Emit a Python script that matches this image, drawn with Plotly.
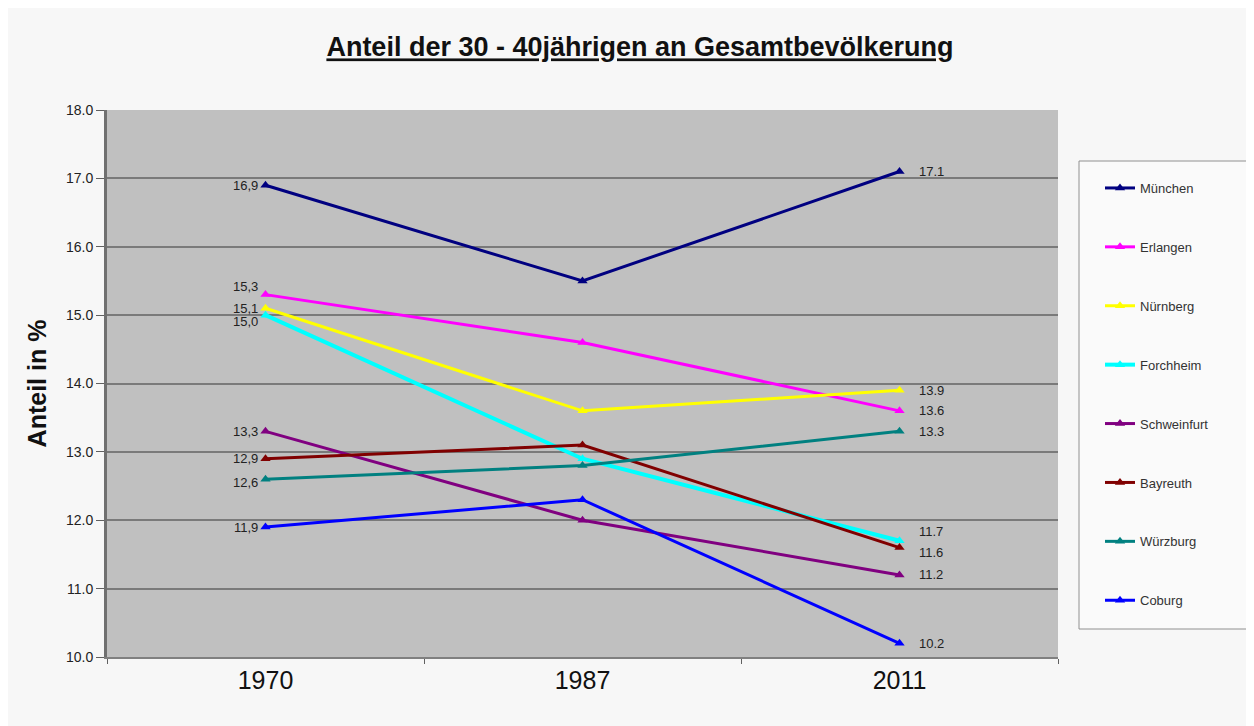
import plotly.graph_objects as go

years = ["1970", "1987", "2011"]
cities = ["München", "Erlangen", "Nürnberg", "Forchheim", "Schweinfurt", "Bayreuth", "Würzburg", "Coburg"]
values = {
    "München":     [16.9, 15.5, 17.1],
    "Erlangen":    [15.3, 14.6, 13.6],
    "Nürnberg":    [15.1, 13.6, 13.9],
    "Forchheim":   [15.0, 12.9, 11.7],
    "Schweinfurt": [13.3, 12.0, 11.2],
    "Bayreuth":    [12.9, 13.1, 11.6],
    "Würzburg":    [12.6, 12.8, 13.3],
    "Coburg":      [11.9, 12.3, 10.2],
}
colors = {
    "München": "#000080",
    "Erlangen": "#FF00FF",
    "Nürnberg": "#FFFF00",
    "Forchheim": "#00FFFF",
    "Schweinfurt": "#800080",
    "Bayreuth": "#800000",
    "Würzburg": "#008080",
    "Coburg": "#0000FF",
}
y_ticks = [10, 11, 12, 13, 14, 15, 16, 17, 18]

# small vertical nudges (px) of the value labels to avoid overlaps
left_shift = {"Erlangen": 8, "Forchheim": -6, "Würzburg": -3}
right_shift = {"Forchheim": 9, "Bayreuth": -5}

FONT = "Arial, Liberation Sans, sans-serif"
OFF = 8  # page body margin

fig = go.Figure()
for c in cities:
    v = values[c]
    fig.add_trace(go.Scatter(
        x=years, y=v, name=c, legendgroup=c,
        mode="lines+markers",
        line=dict(color=colors[c], width=4 if c == "Forchheim" else 3),
        marker=dict(symbol="triangle-up", size=9, color=colors[c]),
    ))
    # category index positions on the category axis
    fig.add_annotation(x=0, y=v[0], text=f"{v[0]:.1f}".replace(".", ","),
                       showarrow=False, xanchor="right", yanchor="middle",
                       xshift=-6, yshift=left_shift.get(c, 0),
                       font=dict(family=FONT, size=13, color="#222222"))
    fig.add_annotation(x=len(years) - 1, y=v[-1], text=f"{v[-1]:.1f}",
                       showarrow=False, xanchor="left", yanchor="middle",
                       xshift=17, yshift=right_shift.get(c, 0),
                       font=dict(family=FONT, size=13, color="#222222"))

fig.add_shape(type="rect", xref="paper", yref="paper",
              x0=(1079 - 107) / 951, x1=(1250 - 107) / 951,
              y0=(657 - 629) / 547, y1=(657 - 161) / 547,
              line=dict(color="#909090", width=1), fillcolor="#FAFAFA", layer="below")

fig.update_layout(
    width=1254, height=726,
    margin=dict(l=107 - OFF, r=1254 + OFF - 1058, t=110 - OFF, b=726 + OFF - 657),
    paper_bgcolor="#F7F7F7",
    plot_bgcolor="#C0C0C0",
    font=dict(family=FONT, color="#222222"),
    title=dict(text="<u>Anteil der 30 - 40jährigen an Gesamtbevölkerung</u>",
               x=(640 - OFF) / 1254, xanchor="center", y=1 - (47 - OFF) / 726, yanchor="middle",
               font=dict(family=FONT, size=27, color="#111111", weight="bold")),
    showlegend=True,
    legend=dict(x=(1100 - 107) / 951, xanchor="left", y=(657 - 173) / 547, yanchor="top",
                bgcolor="rgba(0,0,0,0)", font=dict(family=FONT, size=13, color="#333333"),
                tracegroupgap=39, itemwidth=30),
    xaxis=dict(type="category", range=[-0.5, 2.5], showgrid=False,
               tickson="boundaries", ticks="outside", ticklen=5, tickcolor="#606060",
               tickfont=dict(family=FONT, size=25, color="#111111"),
               showline=True, linecolor="#808080", linewidth=2, mirror=False),
    yaxis=dict(range=[10, 18], tickvals=y_ticks,
               ticktext=[f"{t:.1f}" for t in y_ticks],
               tickfont=dict(family=FONT, size=14, color="#222222"),
               ticks="outside", ticklen=8, tickcolor="#606060",
               gridcolor="#7A7A7A", gridwidth=1.5,
               showline=True, linecolor="#707070", linewidth=3, zeroline=False,
               title=dict(text="<b>Anteil in %</b>", font=dict(family=FONT, size=25, color="#111111"),
                          standoff=13)),
)

fig.write_html("out.html")
